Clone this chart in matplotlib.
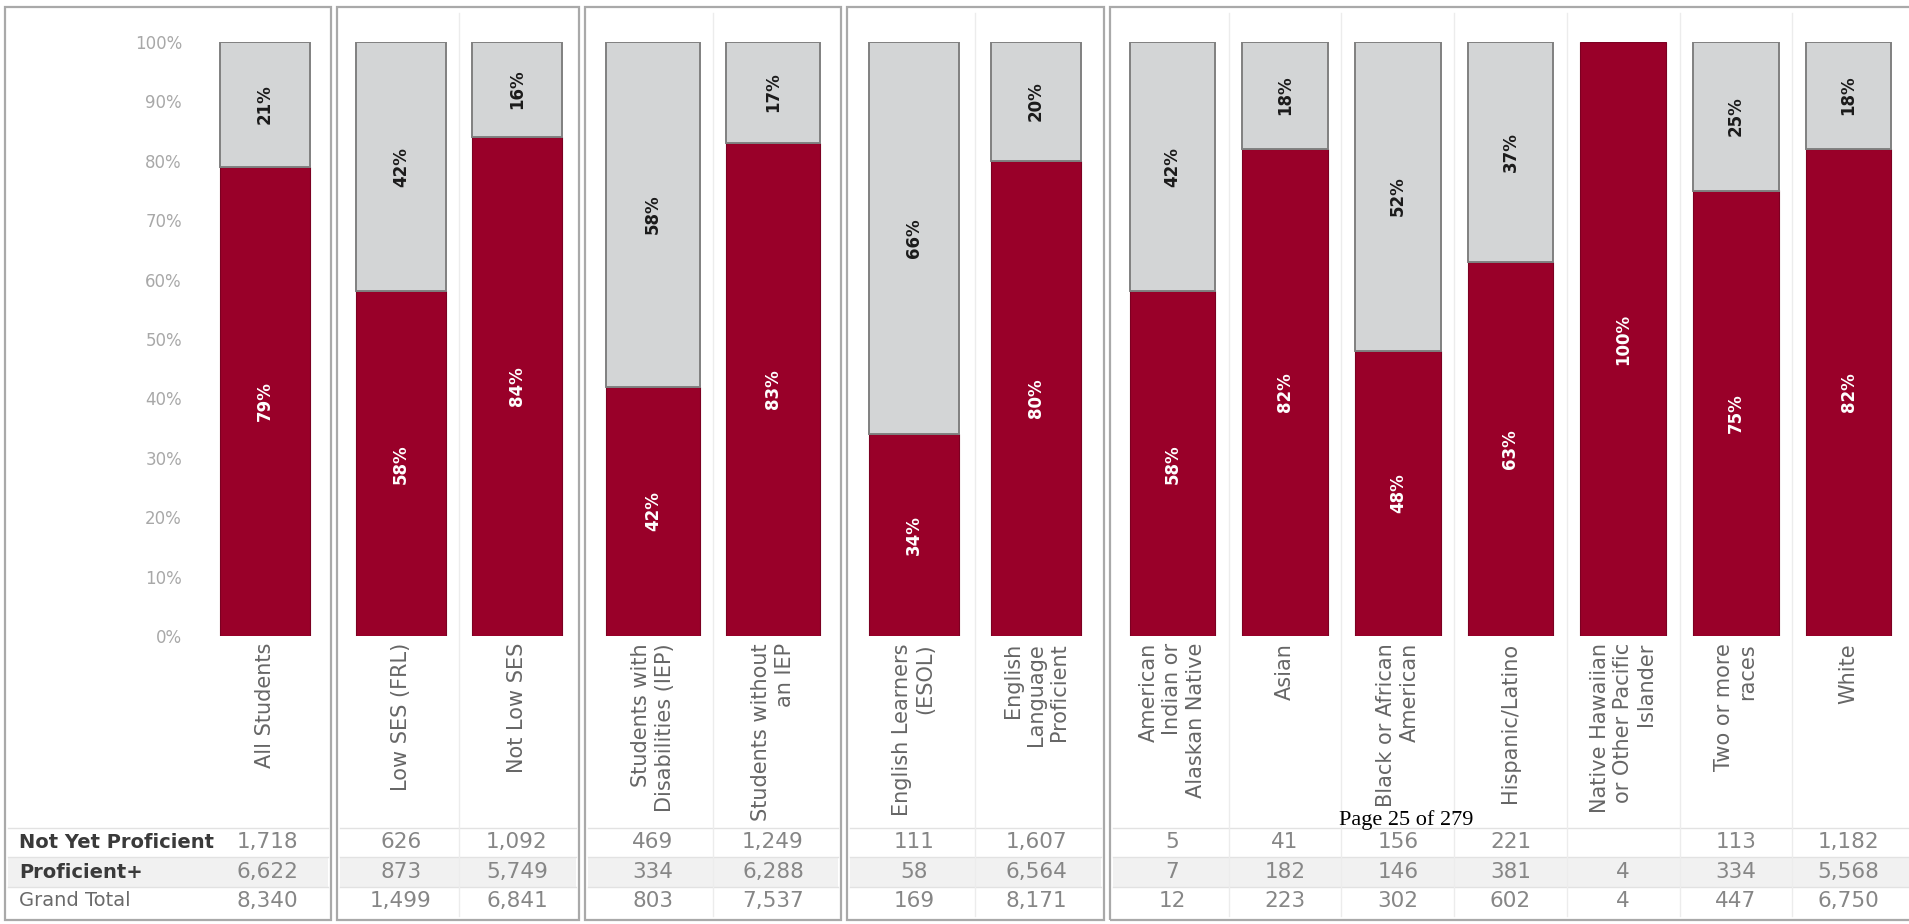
import matplotlib.pyplot as plt
from matplotlib.patches import Rectangle
from matplotlib.lines import Line2D

plt.rcParams['font.family'] = ['DejaVu Sans']

# student groups, in the order they are drawn
categories = ["All Students", "Low SES (FRL)", "Not Low SES",
              "Students with\nDisabilities (IEP)", "Students without\nan IEP",
              "English Learners\n(ESOL)", "English\nLanguage\nProficient",
              "American\nIndian or\nAlaskan Native", "Asian",
              "Black or African\nAmerican", "Hispanic/Latino",
              "Native Hawaiian\nor Other Pacific\nIslander",
              "Two or more\nraces", "White"]
proficient_pct = [79, 58, 84, 42, 83, 34, 80, 58, 82, 48, 63, 100, 75, 82]
not_yet_pct = [21, 42, 16, 58, 17, 66, 20, 42, 18, 52, 37, 0, 25, 18]
not_yet_n = [1718, 626, 1092, 469, 1249, 111, 1607, 5, 41, 156, 221, None, 113, 1182]
proficient_n = [6622, 873, 5749, 334, 6288, 58, 6564, 7, 182, 146, 381, 4, 334, 5568]
total_n = [8340, 1499, 6841, 803, 7537, 169, 8171, 12, 223, 302, 602, 4, 447, 6750]
row_names = ["Not Yet Proficient", "Proficient+", "Grand Total"]
groups = [[0], [1, 2], [3, 4], [5, 6], [7, 8, 9, 10, 11, 12, 13]]

RED = "#990029"
GRAY = "#d3d5d6"
W, H = 1909, 924

# pixel layout of the boxes and of the bar columns inside them
frames = [(5, 331), (337, 579), (585, 841), (847, 1104), (1110, 1930)]
col_spans = [(207, 323), (343, 575), (593, 833), (853, 1097), (1116, 1905)]
frame_top, frame_bot = 7, 920
plot_top, plot_bot = 42, 636
row_y = [842, 872, 901]


def fx(px):
    return px / W


def fy(py):
    return 1 - py / H


fig = plt.figure(figsize=(W / 100, H / 100), dpi=100)
fig.patch.set_facecolor("white")

for gi, idx in enumerate(groups):
    f0, f1 = frames[gi]
    c0, c1 = col_spans[gi]
    n = len(idx)
    cw = (c1 - c0) / n

    # shaded row and thin rules of the count table
    fig.patches.append(Rectangle((fx(f0 + 3), fy(887)), fx(f1 - f0 - 6), (887 - 857) / H,
                                 transform=fig.transFigure, facecolor="#f1f1f1",
                                 edgecolor="none", zorder=0))
    for yy in [828, 857, 887]:
        fig.lines.append(Line2D([fx(f0 + 3), fx(f1 - 3)], [fy(yy), fy(yy)],
                                transform=fig.transFigure, color="#e2e2e2", lw=1, zorder=1))

    # faint separators between columns
    for k in range(1, n):
        xx = c0 + k * cw
        fig.lines.append(Line2D([fx(xx), fx(xx)], [fy(frame_top + 6), fy(frame_bot - 4)],
                                transform=fig.transFigure, color="#ececec", lw=1, zorder=1))

    # box around the group
    fig.patches.append(Rectangle((fx(f0), fy(frame_bot)), fx(f1 - f0), (frame_bot - frame_top) / H,
                                 transform=fig.transFigure, facecolor="none",
                                 edgecolor="#a9a9a9", lw=1.6, zorder=2))

    ax = fig.add_axes([fx(c0), fy(plot_bot), fx(c1 - c0), (plot_bot - plot_top) / H])
    ax.patch.set_visible(False)
    xs = list(range(n))
    prof = [proficient_pct[i] for i in idx]
    notp = [not_yet_pct[i] for i in idx]
    bw = 0.78 if n < 7 else 0.76
    if gi == 3:
        bw = 0.74
    ax.bar(xs, prof, width=bw, color=RED, edgecolor="#7c0022", linewidth=0.8)
    gx = [x for x, v in zip(xs, notp) if v > 0]
    gv = [v for v in notp if v > 0]
    gb = [p for p, v in zip(prof, notp) if v > 0]
    ax.bar(gx, gv, bottom=gb, width=bw, color=GRAY, edgecolor="#808080", linewidth=1.4)

    for x, p, q in zip(xs, prof, notp):
        ax.text(x, p / 2, f"{p}%", rotation=90, ha="center", va="center",
                color="white", fontsize=12, fontweight="bold")
        if q > 0:
            ax.text(x, p + q / 2, f"{q}%", rotation=90, ha="center", va="center",
                    color="#1a1a1a", fontsize=12, fontweight="bold")

    ax.set_xlim(-0.5, n - 0.5)
    ax.set_ylim(0, 100)
    ax.set_xticks([])
    for s in ax.spines.values():
        s.set_visible(False)
    if gi == 0:
        ax.set_yticks(range(0, 101, 10))
        ax.set_yticklabels([f"{v}%" for v in range(0, 101, 10)], color="#a8a8a8", fontsize=12)
        ax.tick_params(axis="y", length=0, pad=18)
    else:
        ax.set_yticks([])

    # category names and counts under each bar
    for k, i in enumerate(idx):
        cx = c0 + (k + 0.5) * cw
        fig.text(fx(cx), fy(643), categories[i], rotation=90, ha="center", va="top",
                 multialignment="right", fontsize=15, color="#666666", linespacing=1.2)
        vals = [not_yet_n[i], proficient_n[i], total_n[i]]
        for ry, v in zip(row_y, vals):
            if v is None:
                continue
            if gi == 0:
                fig.text(fx(298), fy(ry), f"{v:,}", ha="right", va="center",
                         fontsize=15.5, color="#868686")
            else:
                fig.text(fx(cx), fy(ry), f"{v:,}", ha="center", va="center",
                         fontsize=15.5, color="#868686")

for ry, name in zip(row_y, row_names):
    bold = name != "Grand Total"
    fig.text(fx(19), fy(ry), name, ha="left", va="center", fontsize=14,
             fontweight="bold" if bold else "normal",
             color="#3a3a3a" if bold else "#6a6a6a")

fig.text(fx(1406), fy(820), "Page 25 of 279", ha="center", va="center",
         fontsize=16, family="Liberation Serif", color="black")

fig.savefig("out.png", dpi=100)
